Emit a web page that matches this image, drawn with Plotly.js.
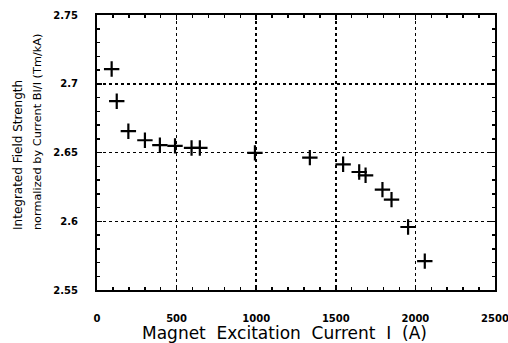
<!DOCTYPE html>
<html>
<head>
<meta charset="utf-8">
<script src="https://cdn.plot.ly/plotly-3.0.1.min.js"></script>
<style>html,body{margin:0;padding:0;background:#fff;}#chart{width:508px;height:343px;}</style>
</head>
<body>
<div id="chart"></div>
<script>
// Magnet excitation current (A)
const current = [92, 124, 197, 301, 395, 490, 594, 646, 992, 1337, 1546, 1647, 1687, 1793, 1850, 1954, 2059];
// Integrated field strength normalized by current BI/I (Tm/kA)
const fieldPerCurrent = [2.7107, 2.6873, 2.6655, 2.6589, 2.6553, 2.6548, 2.6533, 2.6533, 2.6497, 2.6463, 2.6414, 2.6358, 2.6334, 2.6230, 2.6157, 2.5958, 2.5710];
const xTickVals = [0, 500, 1000, 1500, 2000, 2500];
const xTickText = ['0', '500', '1000', '1500', '2000', '2500'];
const yTickVals = [2.55, 2.6, 2.65, 2.7, 2.75];
const yTickText = ['2.55', '2.6', '2.65', '2.7', '2.75'];
const xTitle = 'Magnet\u00A0\u00A0Excitation\u00A0\u00A0Current\u00A0\u00A0I\u00A0\u00A0(A)';
const yTitleLines = ['Integrated Field Strength', 'normalized by Current BI/I (Tm/kA)'];

const tickFont = {family: 'DejaVu Sans', size: 10, color: '#000', weight: 'bold'};

const trace = {
  x: current, y: fieldPerCurrent, type: 'scatter', mode: 'markers',
  marker: {symbol: 'cross-thin', size: 11, line: {color: '#000', width: 2.2}, color: '#000'},
  hoverinfo: 'skip'
};

const layout = {
  width: 508, height: 343,
  margin: {l: 97, r: 13, t: 15, b: 53},
  paper_bgcolor: '#fff', plot_bgcolor: '#fff',
  showlegend: false,
  xaxis: {
    range: [0, 2500], tickmode: 'array', tickvals: xTickVals, ticktext: xTickText,
    tickfont: tickFont, ticks: 'inside', ticklen: 5, tickwidth: 1.5, tickcolor: '#000',
    ticklabelstandoff: 18, ticklabeloverflow: 'allow',
    showline: true, linecolor: '#000', linewidth: 2, mirror: 'ticks',
    showgrid: true, gridcolor: '#000', gridwidth: 1.5, griddash: 'dot',
    zeroline: false,
    minor: {dtick: 100, tick0: 0, ticks: 'inside', ticklen: 3, tickwidth: 1.5, tickcolor: '#000', showgrid: false}
  },
  yaxis: {
    range: [2.55, 2.75], tickmode: 'array', tickvals: yTickVals, ticktext: yTickText,
    tickfont: tickFont, ticks: 'inside', ticklen: 5, tickwidth: 1.5, tickcolor: '#000',
    ticklabelstandoff: 15, ticklabeloverflow: 'allow',
    showline: true, linecolor: '#000', linewidth: 2, mirror: 'ticks',
    showgrid: true, gridcolor: '#000', gridwidth: 1.5, griddash: 'dot',
    zeroline: false,
    minor: {dtick: 0.01, tick0: 2.55, ticks: 'inside', ticklen: 3, tickwidth: 1.5, tickcolor: '#000', showgrid: false}
  },
  annotations: [
    {xref: 'paper', yref: 'paper', x: 0.47, y: -0.156, text: xTitle,
     showarrow: false, xanchor: 'center', yanchor: 'middle',
     font: {family: 'DejaVu Sans', size: 17, color: '#000'}},
    {xref: 'paper', yref: 'paper', x: -0.1985, y: 0.211, text: yTitleLines[0],
     textangle: -90, showarrow: false, xanchor: 'center', yanchor: 'bottom',
     font: {family: 'DejaVu Sans', size: 12, color: '#000'}},
    {xref: 'paper', yref: 'paper', x: -0.148, y: 0.211, text: yTitleLines[1],
     textangle: -90, showarrow: false, xanchor: 'center', yanchor: 'bottom',
     font: {family: 'DejaVu Sans', size: 11.3, color: '#000'}}
  ]
};

Plotly.newPlot('chart', [trace], layout, {staticPlot: true, displayModeBar: false});
</script>
</body>
</html>
